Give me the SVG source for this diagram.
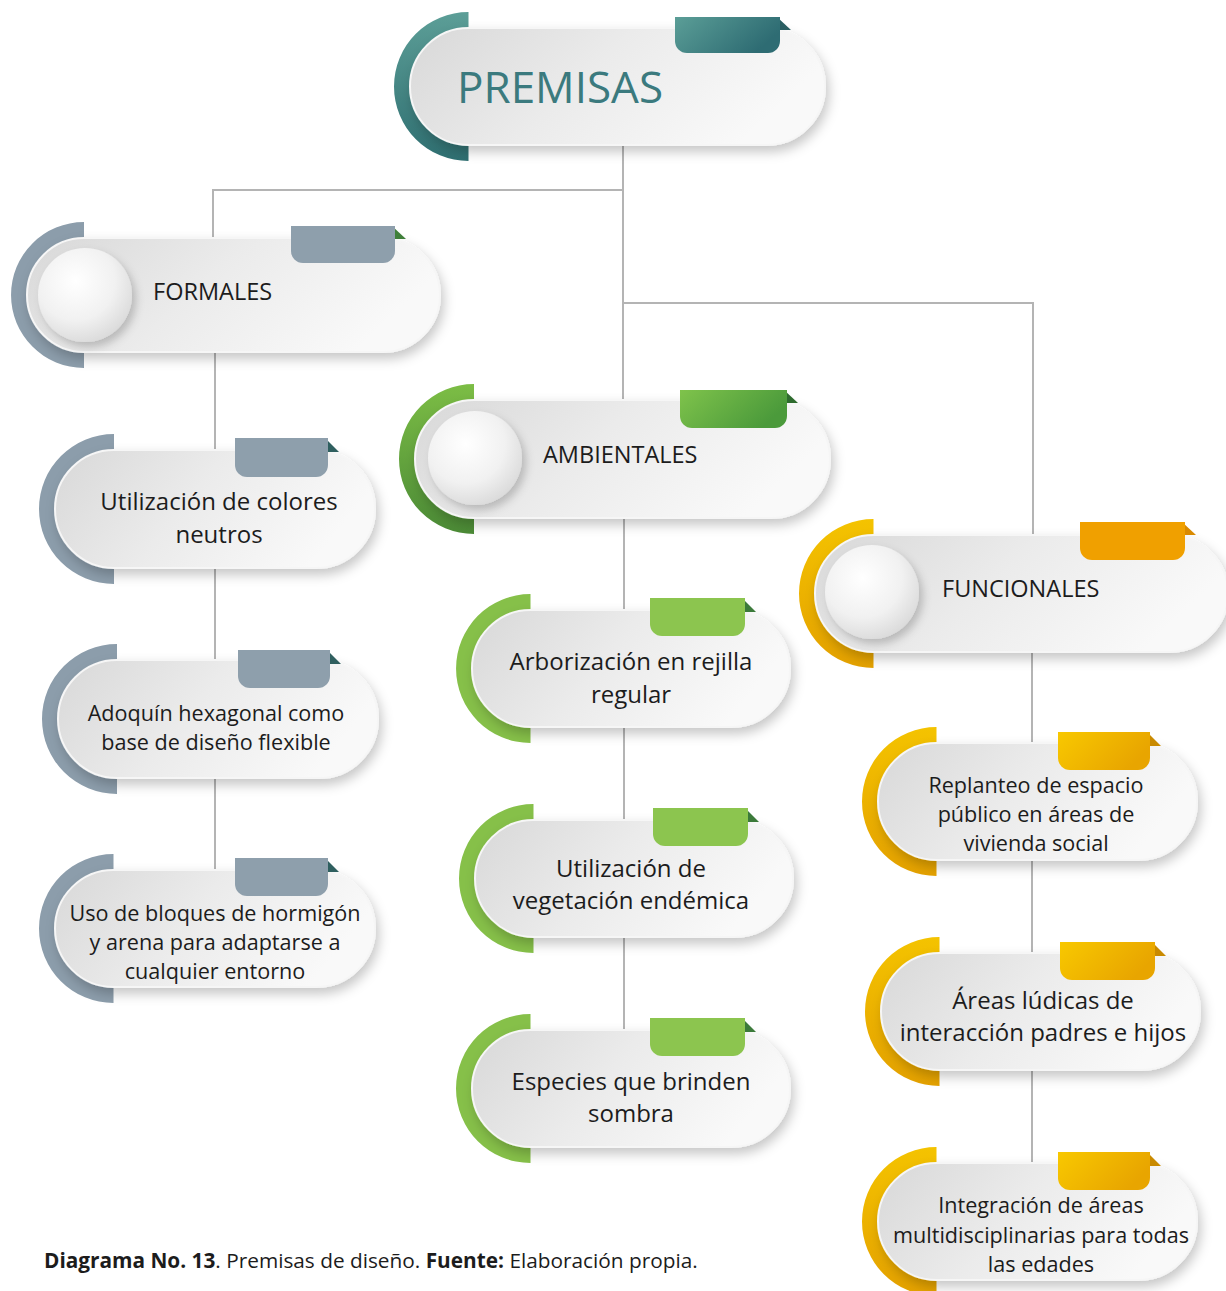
<svg xmlns="http://www.w3.org/2000/svg" width="1226" height="1291" viewBox="0 0 1226 1291">
<defs>
<linearGradient id="pill" x1="0" y1="0" x2="1" y2="0.3"><stop offset="0" stop-color="#d8d8d8"/><stop offset="0.5" stop-color="#ebebeb"/><stop offset="1" stop-color="#f9f9f9"/></linearGradient>
<radialGradient id="knob" cx="0.4" cy="0.35" r="0.7"><stop offset="0" stop-color="#ffffff"/><stop offset="0.6" stop-color="#f1f1f1"/><stop offset="1" stop-color="#d9d9d9"/></radialGradient>
<linearGradient id="tealArc" x1="0" y1="0" x2="0" y2="1"><stop offset="0" stop-color="#5c9e97"/><stop offset="1" stop-color="#2f6f71"/></linearGradient>
<linearGradient id="tealTab" x1="0" y1="0" x2="1" y2="0.4"><stop offset="0" stop-color="#5b9e97"/><stop offset="1" stop-color="#2e6c73"/></linearGradient>
<linearGradient id="greenArc" x1="0" y1="0" x2="0" y2="1"><stop offset="0" stop-color="#7cbd45"/><stop offset="1" stop-color="#4b8a36"/></linearGradient>
<linearGradient id="greenTab" x1="0" y1="0" x2="1" y2="0.4"><stop offset="0" stop-color="#7fc34b"/><stop offset="1" stop-color="#4b9a3b"/></linearGradient>
<linearGradient id="yelArc" x1="0" y1="0" x2="0" y2="1"><stop offset="0" stop-color="#f4c300"/><stop offset="1" stop-color="#e4a100"/></linearGradient>
<linearGradient id="yelTab" x1="0" y1="0" x2="1" y2="0.4"><stop offset="0" stop-color="#f8c800"/><stop offset="1" stop-color="#e8a500"/></linearGradient>
<filter id="sh" x="-10%" y="-20%" width="125%" height="150%"><feDropShadow dx="3" dy="6" stdDeviation="6" flood-color="#000" flood-opacity="0.22"/></filter>
<filter id="ksh" x="-30%" y="-30%" width="170%" height="170%"><feDropShadow dx="4" dy="5" stdDeviation="4" flood-color="#000" flood-opacity="0.2"/></filter>
</defs>
<style>
.pill{fill:url(#pill);stroke:#f6f6f6;stroke-width:2;filter:url(#sh)}
.knob{fill:url(#knob);filter:url(#ksh)}
.line{fill:none;stroke:#b4b4b4;stroke-width:2}
.t{font-family:"Open Sans","Noto Sans",sans-serif;fill:#1c1c1c;text-anchor:middle}
.h{font-family:"Open Sans","Noto Sans",sans-serif;fill:#1c1c1c;font-size:23.5px}
.gArc{fill:#8c9dab}.gTab{fill:#8e9fac}.gFold{fill:#2f5f5f}
.lgArc{fill:#86c049}.lgTab{fill:#8cc54f}.lgFold{fill:#3b7a3a}
.yFold{fill:#c98a00}
</style>
<rect width="1226" height="1291" fill="#ffffff"/>
<g id="connectors">
<path class="line" d="M623 140 V405"/>
<path class="line" d="M623 190 H213 V245"/>
<path class="line" d="M623 303 H1033 V540"/>
<path class="line" d="M215 345 V875"/>
<path class="line" d="M624 512 V1035"/>
<path class="line" d="M1032 645 V1168"/>
</g>
<g id="premisas">
<path fill="url(#tealArc)" d="M468.5 12 A74.5 74.5 0 0 0 468.5 161 L468.5 145 A58.5 58.5 0 0 1 468.5 28 Z"/>
<rect class="pill" x="410" y="28" width="415" height="117" rx="58.5"/>
<path fill="#2a5e62" d="M777 17 L791 30 L777 30 Z"/>
<path fill="url(#tealTab)" d="M675 17 H780 V41 A12 12 0 0 1 768 53 H687 A12 12 0 0 1 675 41 Z"/>
<text x="457" y="103" font-family="Open Sans,Noto Sans,sans-serif" font-size="44" fill="#3b7a7e">PREMISAS</text>
</g>
<g id="formales">
<path class="gArc" d="M84 222 A73 73 0 0 0 84 368 L84 352 A57 57 0 0 1 84 238 Z"/>
<rect class="pill" x="27" y="238" width="413" height="114" rx="57"/>
<path fill="#3f7f3a" d="M392 226 L406 239 L392 239 Z"/>
<path class="gTab" d="M291 226 H395 V251 A12 12 0 0 1 383 263 H303 A12 12 0 0 1 291 251 Z"/>
<circle class="knob" cx="85" cy="295" r="47"/>
<text class="h" x="153" y="300">FORMALES</text>
</g>
<g id="ambientales">
<path fill="url(#greenArc)" d="M474 384 A75 75 0 0 0 474 534 L474 518 A59 59 0 0 1 474 400 Z"/>
<rect class="pill" x="415" y="400" width="415" height="118" rx="59"/>
<path fill="#2e6b2e" d="M784 390 L798 403 L784 403 Z"/>
<path fill="url(#greenTab)" d="M680 390 H787 V416 A12 12 0 0 1 775 428 H692 A12 12 0 0 1 680 416 Z"/>
<circle class="knob" cx="475" cy="458" r="47"/>
<text class="h" x="543" y="463">AMBIENTALES</text>
</g>
<g id="funcionales">
<path fill="url(#yelArc)" d="M873.5 519 A74.5 74.5 0 0 0 873.5 668 L873.5 652 A58.5 58.5 0 0 1 873.5 535 Z"/>
<rect class="pill" x="815" y="535" width="413" height="117" rx="58.5"/>
<path fill="#d98a00" d="M1182 522 L1196 535 L1182 535 Z"/>
<path fill="#f0a000" d="M1080 522 H1185 V548 A12 12 0 0 1 1173 560 H1092 A12 12 0 0 1 1080 548 Z"/>
<circle class="knob" cx="872" cy="592" r="47"/>
<text class="h" x="942" y="597">FUNCIONALES</text>
</g>
<g id="f1">
<path class="gArc" d="M114 434 A75 75 0 0 0 114 584 L114 568 A59 59 0 0 1 114 450 Z"/>
<rect class="pill" x="55" y="450" width="320" height="118" rx="59"/>
<path class="gFold" d="M325 438 L339 452 L325 452 Z"/>
<path class="gTab" d="M235 438 H328 V465 A12 12 0 0 1 316 477 H247 A12 12 0 0 1 235 465 Z"/>
<text class="t" font-size="24"><tspan x="219" y="510">Utilización de colores</tspan><tspan x="219" y="543">neutros</tspan></text>
</g>
<g id="f2">
<path class="gArc" d="M117 644 A75 75 0 0 0 117 794 L117 778 A59 59 0 0 1 117 660 Z"/>
<rect class="pill" x="58" y="660" width="320" height="118" rx="59"/>
<path class="gFold" d="M327 650 L341 664 L327 664 Z"/>
<path class="gTab" d="M238 650 H330 V676 A12 12 0 0 1 318 688 H250 A12 12 0 0 1 238 676 Z"/>
<text class="t" font-size="21.6"><tspan x="216" y="721">Adoquín hexagonal como</tspan><tspan x="216" y="750">base de diseño flexible</tspan></text>
</g>
<g id="f3">
<path class="gArc" d="M113.5 854 A74.5 74.5 0 0 0 113.5 1003 L113.5 987 A58.5 58.5 0 0 1 113.5 870 Z"/>
<rect class="pill" x="55" y="870" width="320" height="117" rx="58.5"/>
<path class="gFold" d="M325 858 L339 872 L325 872 Z"/>
<path class="gTab" d="M235 858 H328 V884 A12 12 0 0 1 316 896 H247 A12 12 0 0 1 235 884 Z"/>
<text class="t" font-size="21.6"><tspan x="215" y="921">Uso de bloques de hormigón</tspan><tspan x="215" y="950">y arena para adaptarse a</tspan><tspan x="215" y="979">cualquier entorno</tspan></text>
</g>
<g id="a1">
<path class="lgArc" d="M530.5 594 A74.5 74.5 0 0 0 530.5 743 L530.5 727 A58.5 58.5 0 0 1 530.5 610 Z"/>
<rect class="pill" x="472" y="610" width="318" height="117" rx="58.5"/>
<path class="lgFold" d="M742 598 L756 612 L742 612 Z"/>
<path class="lgTab" d="M650 598 H745 V624 A12 12 0 0 1 733 636 H662 A12 12 0 0 1 650 624 Z"/>
<text class="t" font-size="24"><tspan x="631" y="670">Arborización en rejilla</tspan><tspan x="631" y="703">regular</tspan></text>
</g>
<g id="a2">
<path class="lgArc" d="M533.5 804 A74.5 74.5 0 0 0 533.5 953 L533.5 937 A58.5 58.5 0 0 1 533.5 820 Z"/>
<rect class="pill" x="475" y="820" width="318" height="117" rx="58.5"/>
<path class="lgFold" d="M745 808 L759 822 L745 822 Z"/>
<path class="lgTab" d="M653 808 H748 V834 A12 12 0 0 1 736 846 H665 A12 12 0 0 1 653 834 Z"/>
<text class="t" font-size="24"><tspan x="631" y="877">Utilización de</tspan><tspan x="631" y="909">vegetación endémica</tspan></text>
</g>
<g id="a3">
<path class="lgArc" d="M530.5 1014 A74.5 74.5 0 0 0 530.5 1163 L530.5 1147 A58.5 58.5 0 0 1 530.5 1030 Z"/>
<rect class="pill" x="472" y="1030" width="318" height="117" rx="58.5"/>
<path class="lgFold" d="M742 1018 L756 1032 L742 1032 Z"/>
<path class="lgTab" d="M650 1018 H745 V1044 A12 12 0 0 1 733 1056 H662 A12 12 0 0 1 650 1044 Z"/>
<text class="t" font-size="24"><tspan x="631" y="1090">Especies que brinden</tspan><tspan x="631" y="1122">sombra</tspan></text>
</g>
<g id="u1">
<path fill="url(#yelArc)" d="M936.5 727 A74.5 74.5 0 0 0 936.5 876 L936.5 860 A58.5 58.5 0 0 1 936.5 743 Z"/>
<rect class="pill" x="878" y="743" width="319" height="117" rx="58.5"/>
<path class="yFold" d="M1147 732 L1161 746 L1147 746 Z"/>
<path fill="url(#yelTab)" d="M1058 732 H1150 V758 A12 12 0 0 1 1138 770 H1070 A12 12 0 0 1 1058 758 Z"/>
<text class="t" font-size="21.6"><tspan x="1036" y="793">Replanteo de espacio</tspan><tspan x="1036" y="822">público en áreas de</tspan><tspan x="1036" y="851">vivienda social</tspan></text>
</g>
<g id="u2">
<path fill="url(#yelArc)" d="M939.5 937 A74.5 74.5 0 0 0 939.5 1086 L939.5 1070 A58.5 58.5 0 0 1 939.5 953 Z"/>
<rect class="pill" x="881" y="953" width="319" height="117" rx="58.5"/>
<path class="yFold" d="M1152 942 L1166 956 L1152 956 Z"/>
<path fill="url(#yelTab)" d="M1060 942 H1155 V968 A12 12 0 0 1 1143 980 H1072 A12 12 0 0 1 1060 968 Z"/>
<text class="t" font-size="24"><tspan x="1043" y="1009">Áreas lúdicas de</tspan><tspan x="1043" y="1041">interacción padres e hijos</tspan></text>
</g>
<g id="u3">
<path fill="url(#yelArc)" d="M936.5 1147 A74.5 74.5 0 0 0 936.5 1296 L936.5 1280 A58.5 58.5 0 0 1 936.5 1163 Z"/>
<rect class="pill" x="878" y="1163" width="319" height="117" rx="58.5"/>
<path class="yFold" d="M1147 1152 L1161 1166 L1147 1166 Z"/>
<path fill="url(#yelTab)" d="M1058 1152 H1150 V1178 A12 12 0 0 1 1138 1190 H1070 A12 12 0 0 1 1058 1178 Z"/>
<text class="t" font-size="21.6"><tspan x="1041" y="1213">Integración de áreas</tspan><tspan x="1041" y="1243">multidisciplinarias para todas</tspan><tspan x="1041" y="1272">las edades</tspan></text>
</g>
<g id="caption">
<text x="44" y="1268" font-family="Open Sans,Noto Sans,sans-serif" font-size="20.8" fill="#1c1c1c"><tspan font-weight="bold">Diagrama No. 13</tspan>. Premisas de diseño. <tspan font-weight="bold">Fuente:</tspan> Elaboración propia.</text>
</g>
</svg>
